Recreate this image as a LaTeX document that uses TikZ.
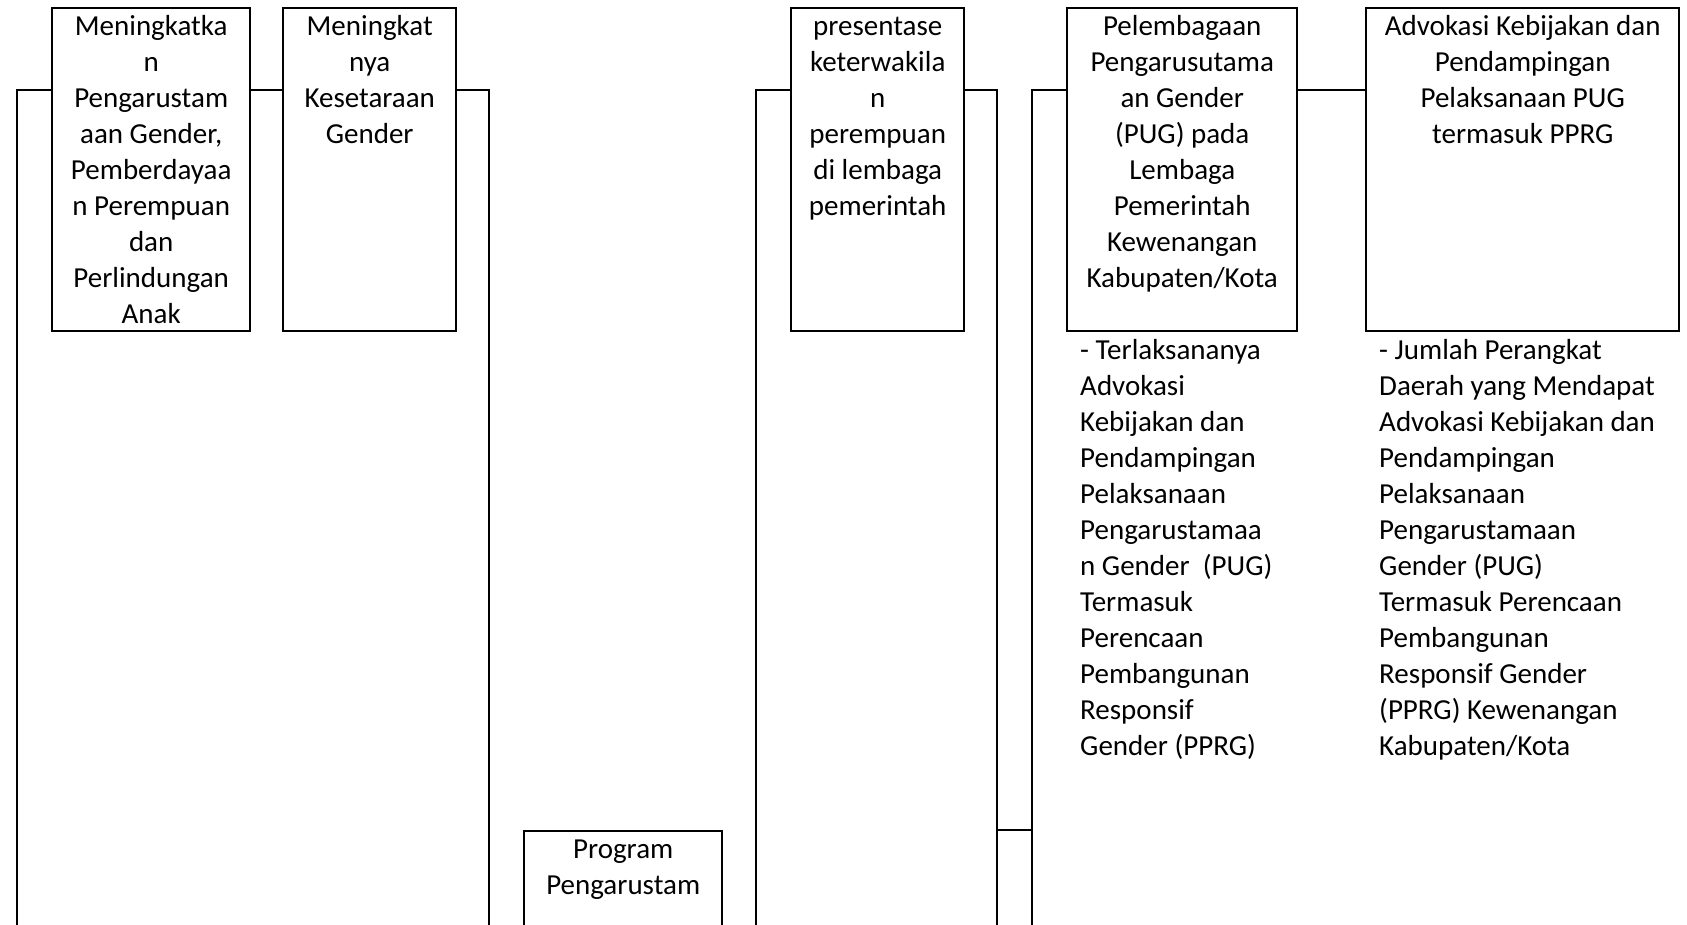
\documentclass[tikz,border=0pt]{standalone}
\usepackage{fontspec}
\setmainfont{Carlito}
% box text: fixed-height top-aligned paragraph, centred lines
\newcommand\boxlines[3]{\parbox[t][#2][t]{#1}{\centering\rule{0pt}{27pt}#3}}
% indicator text: left-aligned paragraph, baseline at its first line
\newcommand\listlines[2]{\parbox[t]{#1}{\raggedright #2}}
\tikzset{
  box/.style={draw, line width=2.4pt, inner sep=0pt, anchor=north west,
    font=\fontsize{29}{36}\selectfont},
  note/.style={inner sep=0pt, anchor=base west,
    font=\fontsize{29}{36}\selectfont},
  link/.style={line width=2.4pt},
  thinlink/.style={line width=1.2pt}
}
\begin{document}
\begin{tikzpicture}[x=1pt, y=-1pt]
\clip (0,0) rectangle (1687,924);

% boxes
\node[box] (b1) at (51,7) {\boxlines{198pt}{323pt}{Meningkatka\\n\\Pengarustam\\aan Gender,\\Pemberdayaa\\n Perempuan\\dan\\Perlindungan\\Anak}};
\node[box] (b2) at (282,7) {\boxlines{173pt}{323pt}{Meningkat\\nya\\Kesetaraan\\Gender}};
\node[box] (b3) at (790,7) {\boxlines{173pt}{323pt}{presentase\\keterwakila\\n\\perempuan\\di lembaga\\pemerintah}};
\node[box] (b4) at (1066,7) {\boxlines{230pt}{323pt}{Pelembagaan\\Pengarusutama\\an Gender\\(PUG) pada\\Lembaga\\Pemerintah\\Kewenangan\\Kabupaten/Kota}};
\node[box] (b5) at (1365,7) {\boxlines{313pt}{323pt}{Advokasi Kebijakan dan\\Pendampingan\\Pelaksanaan PUG\\termasuk PPRG}};
\node[box] (prog) at (523,830) {\boxlines{198pt}{200pt}{Program\\Pengarustam}};

% indicators under the last two boxes
\node[note] (i4) at (1080,359) {\listlines{260pt}{- Terlaksananya\\Advokasi\\Kebijakan dan\\Pendampingan\\Pelaksanaan\\Pengarustamaa\\n Gender\ \ (PUG)\\Termasuk\\Perencaan\\Pembangunan\\Responsif\\Gender (PPRG)}};
\node[note] (i5) at (1379,359) {\listlines{300pt}{- Jumlah Perangkat\\Daerah yang Mendapat\\Advokasi Kebijakan dan\\Pendampingan\\Pelaksanaan\\Pengarustamaan\\Gender (PUG)\\Termasuk Perencaan\\Pembangunan\\Responsif Gender\\(PPRG) Kewenangan\\Kabupaten/Kota}};

% connector rails
\coordinate (rail) at (0,90);
\coordinate (tap) at (0,830);
\coordinate (busA) at (17,940);
\coordinate (busB) at (489,940);
\coordinate (busC) at (756,940);
\coordinate (busD) at (997,940);
\coordinate (busE) at (1032,940);

\draw[link] (b1.west |- rail) -| (busA);
\draw[link] (b1.east |- rail) -- (b2.west |- rail);
\draw[link] (b2.east |- rail) -| (busB);
\draw[link] (b3.west |- rail) -| (busC);
\draw[link] (b3.east |- rail) -| (busD);
\draw[link] (b4.west |- rail) -| (busE);
\draw[thinlink] (b4.east |- rail) -- (b5.west |- rail);
\draw[link] (busD |- tap) -- (busE |- tap);
\end{tikzpicture}
\end{document}
